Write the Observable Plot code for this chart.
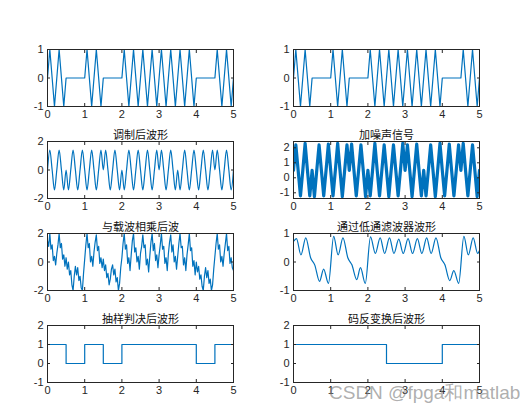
<!DOCTYPE html>
<html><head><meta charset="utf-8">
<script src="https://cdn.jsdelivr.net/npm/d3@7"></script>
<script src="https://cdn.jsdelivr.net/npm/@observablehq/plot@0.6"></script>
<style>
html,body{margin:0;padding:0;background:#fff;}
#wrap{position:relative;width:529px;height:412px;overflow:hidden;background:#fff;}
#wrap svg{position:absolute;overflow:visible;}
#wm{position:absolute;left:329px;top:383px;font:19px "Liberation Sans",Arial,sans-serif;color:rgba(130,130,130,0.65);white-space:nowrap;line-height:20px;}
</style></head><body><div id="wrap"><div id="wm">CSDN @fpga和matlab</div></div>
<script>
// ---------- data ----------
const xTicks = [0, 1, 2, 3, 4, 5];
const titles = ["", "", "调制后波形", "加噪声信号", "与载波相乘后波", "通过低通滤波器波形", "抽样判决后波形", "码反变换后波形"];

// row 1: baseband-modulated waveform (vertices)
const t1 = [0,0.0625,0.1875,0.3125,0.4375,0.5,1,1.0625,1.1875,1.3125,1.4375,1.5,2,2.0625,2.1875,2.3125,2.4375,2.5625,2.6875,2.8125,2.9375,3.0625,3.1875,3.3125,3.4375,3.5625,3.6875,3.8125,3.9375,4,4.5,4.5625,4.6875,4.8125,4.9375,5];
const y1 = [0,1,-1,1,-1,0,0,1,-1,1,-1,0,0,1,-1,1,-1,1,-1,1,-1,1,-1,1,-1,1,-1,1,-1,0,0,1,-1,1,-1,0];

// row 2 left: modulated waveform, sampled every 1/16 s
const dt2 = 1 / 16;
const y2L = [0,
  1.4,0,-1.4,0,1.4,0,-1.4,0,
  -1.4,0,1.4,0,-1.4,0,1.4,0,
  -1.4,0,1.4,0,-1.4,0,1.4,0,
  1.4,0,-1.4,0,1.4,0,-1.4,0,
  -1.4,0,1.4,0,-1.4,0,1.4,0,
  -1.4,0,1.4,0,-1.4,0,1.4,0,
  1.4,0,-1.4,0,1.4,0,-1.4,0,
  -1.4,0,1.4,0,-1.4,0,1.4,0,
  -1.4,0,1.4,0,-1.4,0,1.4,0,
  1.4,0,-1.4,0,1.4,0,-1.4,0];

// row 2 right: noisy signal, every 1/16 s
const y2R = [0.5,
  2.2,0.5,-1.2,0.5,2.3,0.5,-1.2,0.5,
  -1.25,0.5,2.2,0.5,-1.2,0.5,2.25,0.5,
  -1.2,0.5,2.3,0.5,-1.25,0.5,2.2,0.5,
  2.25,0.5,-1.2,0.5,2.2,0.5,-1.25,0.5,
  -1.2,0.5,2.3,0.5,-1.2,0.5,2.2,0.5,
  -1.25,0.5,2.2,0.5,-1.2,0.5,2.3,0.5,
  2.2,0.5,-1.25,0.5,2.25,0.5,-1.2,0.5,
  -1.2,0.5,2.2,0.5,-1.25,0.5,2.3,0.5,
  -1.2,0.5,2.25,0.5,-1.2,0.5,2.2,0.5,
  2.3,0.5,-1.2,0.5,2.2,0.5,-1.25,0.5];

// row 3 left: product with carrier, every 1/32 s
const dt3 = 1 / 32;
const y3L = [1.5,1.1,2.0,0.9,1.2,0.1,0.4,-0.2,
  0.6,1.2,2.0,1.0,1.3,0.2,0.5,-0.3,
  0.3,-0.5,0.0,-0.9,-0.6,-1.6,-2.0,-1.0,
  -0.3,-0.9,-0.4,-1.3,-1.0,-1.8,-2.0,-0.8,
  0.2,1.2,2.0,1.0,1.3,0.0,0.4,-0.3,
  0.7,1.4,1.9,0.8,1.1,-0.1,0.3,-0.4,
  0.2,-0.6,-0.2,-1.1,-0.8,-1.6,-1.2,-0.5,
  -0.2,-0.9,-0.5,-1.4,-1.1,-2.0,-1.5,-0.4,
  0.3,1.3,2.0,0.9,1.2,-0.1,0.3,-0.6,
  0.5,1.5,2.0,0.7,1.0,0.0,0.4,-0.5,
  0.6,1.1,1.9,1.0,1.2,-0.2,0.2,-0.7,
  0.4,1.4,2.0,0.8,1.3,0.1,0.5,-0.4,
  0.5,1.2,2.0,0.9,1.1,-0.1,0.3,-0.6,
  0.6,1.4,1.9,0.7,1.2,0.0,0.4,-0.5,
  0.4,1.3,2.0,1.0,1.1,-0.2,0.3,-0.6,
  0.5,1.2,2.0,0.8,1.0,-0.3,0.1,-0.9,
  0.0,-0.7,-0.3,-1.2,-0.9,-1.7,-2.0,-1.0,
  -0.4,-1.1,-0.6,-1.5,-1.2,-2.0,-1.6,-0.5,
  0.4,1.3,2.0,0.9,1.2,0.0,0.4,-0.3,
  0.6,1.3,2.0,0.8,1.1,-0.1,0.3,-0.4,
  -0.6];

// row 3 right: low-pass filter output (key points)
const t3R = [0,0.08,0.2,0.33,0.46,0.57,0.7,0.81,0.94,1.08,1.2,1.33,1.46,1.57,1.7,1.8,1.93,2.07,2.2,2.33,2.45,2.58,2.7,2.83,2.95,3.08,3.2,3.33,3.45,3.58,3.7,3.83,3.96,4.07,4.2,4.31,4.44,4.58,4.7,4.83,4.95,5];
const y3R = [0.72,0.82,0.25,0.85,0.15,-0.1,-0.68,-0.25,-0.75,0.9,0.25,0.85,0.15,-0.1,-0.62,-0.2,-0.75,0.88,0.3,0.85,0.3,0.85,0.3,0.8,0.3,0.82,0.3,0.82,0.3,0.85,0.3,0.85,0.15,-0.1,-0.65,-0.3,-0.75,0.9,0.25,0.85,0.3,0.4];

// row 4: bit decisions
const bitStarts = [0,0.5,1,1.5,2,2.5,3,3.5,4,4.5,5];
const bitsDecided = [1,0,1,0,1,1,1,1,0,1,1];
const bitsDecoded = [1,1,1,1,1,0,0,0,1,1,1];

// ---------- layout ----------
const W = 186, H = 57, ML = 30, MR = 10, MT = 22, MB = 20;
const colX = [47, 293];
const rowY = [49, 141, 233, 325];
const BLUE = "#0072BD", AX = "#262626";
const fmt = d => String(d);

function pts(xs, ys) { return ys.map((v, i) => ({t: xs[i], v})); }
function grid(ys, dt) { return ys.map((v, i) => ({t: i * dt, v})); }

function panel(idx, data, yDomain, yTicks, lineOpts) {
  const col = idx % 2, row = Math.floor(idx / 2);
  const marks = [
    Plot.line(data, {x: "t", y: "v", stroke: BLUE, strokeWidth: 1.2, clip: true, ...lineOpts}),
    Plot.frame({stroke: AX}),
    Plot.axisX(xTicks, {tickSize: 0, tickPadding: 4, label: null, tickFormat: fmt}),
    Plot.axisX(xTicks, {tickSize: 3, dy: -3, fill: "none", label: null}),
    Plot.axisX(xTicks, {anchor: "top", tickSize: 3, dy: 3, fill: "none", label: null}),
    Plot.axisY(yTicks, {tickSize: 0, tickPadding: 4, label: null, tickFormat: fmt}),
    Plot.axisY(yTicks, {tickSize: 3, dx: 3, fill: "none", label: null}),
    Plot.axisY(yTicks, {anchor: "right", tickSize: 3, dx: -3, fill: "none", label: null})
  ];
  if (titles[idx]) marks.push(Plot.text([titles[idx]], {frameAnchor: "top", dy: -10.5, text: d => d, fontFamily: '"Noto Sans CJK SC", sans-serif', fontSize: 11, fontWeight: 400, fill: "#111"}));
  const svg = Plot.plot({
    width: ML + W + MR, height: MT + H + MB,
    marginLeft: ML, marginRight: MR, marginTop: MT, marginBottom: MB,
    x: {domain: [0, 5]}, y: {domain: yDomain},
    style: {fontFamily: '"Liberation Sans", Arial, sans-serif', fontSize: "11px", color: AX, background: "transparent", overflow: "visible"},
    marks
  });
  svg.style.left = (colX[col] - ML) + "px";
  svg.style.top = (rowY[row] - MT) + "px";
  document.getElementById("wrap").appendChild(svg);
}

panel(0, pts(t1, y1), [-1, 1], [-1, 0, 1]);
panel(1, pts(t1, y1), [-1, 1], [-1, 0, 1]);
panel(2, grid(y2L, dt2), [-2, 2], [-2, 0, 2], {curve: "monotone-x"});
panel(3, grid(y2R, dt2), [-1.38, 2.42], [-1, 0, 1, 2], {strokeWidth: 3.2});
panel(4, grid(y3L, dt3), [-2, 2], [-2, 0, 2]);
panel(5, pts(t3R, y3R), [-1, 1], [-1, 0, 1], {curve: "monotone-x"});
panel(6, pts(bitStarts, bitsDecided), [-1, 2], [-1, 0, 1, 2], {curve: "step-after"});
panel(7, pts(bitStarts, bitsDecoded), [-1, 2], [-1, 0, 1, 2], {curve: "step-after"});
document.getElementById("wrap").appendChild(document.getElementById("wm"));
</script></body></html>
